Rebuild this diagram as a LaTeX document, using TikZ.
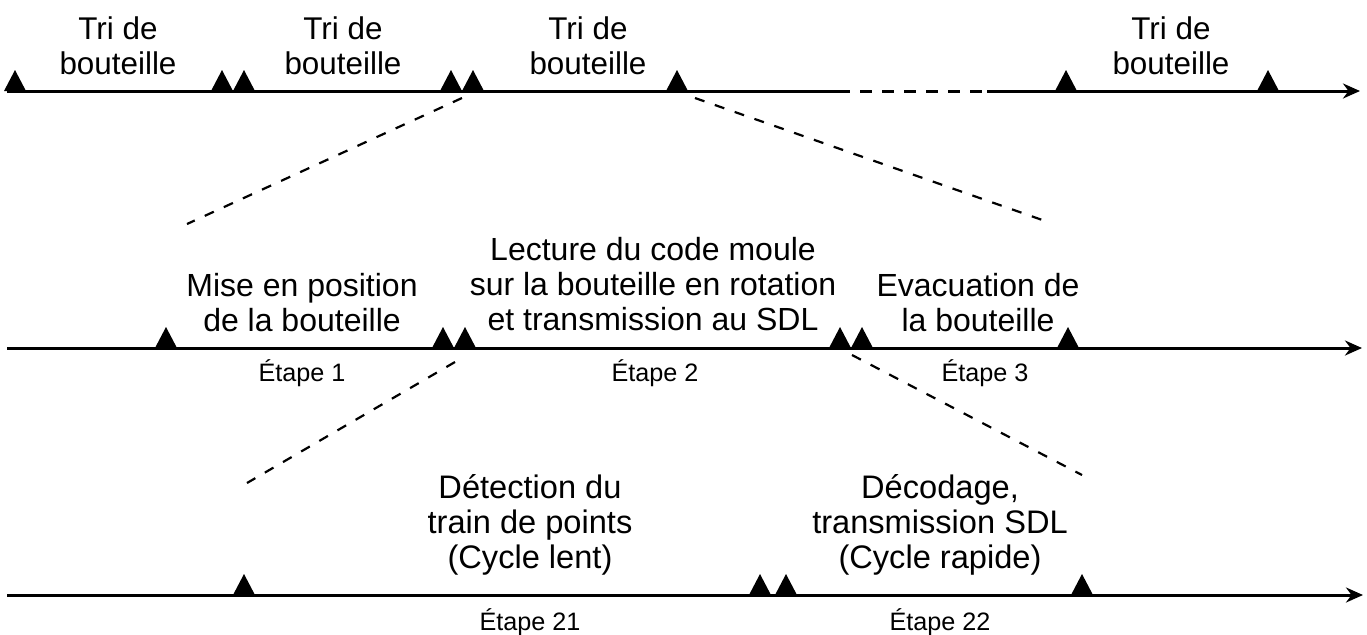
\documentclass[tikz,border=0pt]{standalone}
\usepackage{fontspec}
\setmainfont{Liberation Sans}
\usetikzlibrary{arrows.meta}
\begin{document}
\begin{tikzpicture}[x=0.5pt,y=-0.5pt,
  axisline/.style={line width=1.5pt},
  axisarrow/.style={line width=1.5pt,-{Stealth[length=8.5pt,width=7.5pt]}},
  zoomline/.style={line width=1.1pt,dash pattern=on 5pt off 5.5pt},
  gapline/.style={line width=1.5pt,dash pattern=on 6pt off 5pt},
  trimark/.pic={\fill (-11,0) -- (0,-21) -- (11,0) -- cycle;},
  toplbl/.style={font=\fontsize{15.7}{17.5}\selectfont,align=center,inner sep=0pt},
  midlbl/.style={font=\fontsize{16}{17.5}\selectfont,align=center,inner sep=0pt},
  botlbl/.style={font=\fontsize{16.3}{17.5}\selectfont,align=center,inner sep=0pt},
  steplbl/.style={font=\fontsize{12.6}{14}\selectfont,inner sep=0pt}]
\useasboundingbox (0,0) rectangle (1367,634);

% ---------- top axis ----------
\coordinate (a0) at (7,91);
\coordinate (g1) at (838,91);
\coordinate (g2) at (987,91);
\coordinate (a1) at (1360,91);
\draw[axisline] (a0) -- (g1);
\draw[gapline] (g1) -- (g2);
\draw[axisarrow] (g2) -- (a1);
\foreach \x in {15,222,244,451,473,677,1066,1268} \pic at (\x,91) {trimark};
\node[toplbl] (t1) at (118,46) {Tri de\\bouteille};
\node[toplbl] (t2) at (343,46) {Tri de\\bouteille};
\node[toplbl] (t3) at (588,46) {Tri de\\bouteille};
\node[toplbl] (t4) at (1171,46) {Tri de\\bouteille};

% ---------- middle axis ----------
\coordinate (b0) at (7,348);
\coordinate (b1) at (1362,348);
\draw[axisarrow] (b0) -- (b1);
\foreach \x in {166,443,465,840,862,1068} \pic at (\x,348) {trimark};
\node[midlbl] (m1) at (302,303) {Mise en position\\de la bouteille};
\node[midlbl] (m2) at (653,284) {Lecture du code moule\\sur la bouteille en rotation\\et transmission au SDL};
\node[midlbl] (m3) at (978,303) {Evacuation de\\la bouteille};
\node[steplbl] (e1) at (302,373) {Étape 1};
\node[steplbl] (e2) at (655,373) {Étape 2};
\node[steplbl] (e3) at (985,373) {Étape 3};

% ---------- bottom axis ----------
\coordinate (c0) at (7,595);
\coordinate (c1) at (1363,595);
\draw[axisarrow] (c0) -- (c1);
\foreach \x in {244,760,786,1082} \pic at (\x,595) {trimark};
\node[botlbl] (d1) at (530,525) {Détection du\\train de points\\(Cycle lent)};
\node[botlbl] (d2) at (940,525) {Décodage,\\transmission SDL\\(Cycle rapide)};
\node[steplbl] (e21) at (530,622) {Étape 21};
\node[steplbl] (e22) at (940,622) {Étape 22};

% ---------- zoom connectors ----------
\coordinate (z1a) at (462,98);
\coordinate (z1b) at (187,224);
\coordinate (z2a) at (695,98);
\coordinate (z2b) at (1048,222);
\coordinate (z3a) at (455,362);
\coordinate (z3b) at (247,483);
\coordinate (z4a) at (852,355);
\coordinate (z4b) at (1082,475);
\draw[zoomline] (z1a) -- (z1b);
\draw[zoomline] (z2a) -- (z2b);
\draw[zoomline] (z3a) -- (z3b);
\draw[zoomline] (z4a) -- (z4b);
\end{tikzpicture}
\end{document}
